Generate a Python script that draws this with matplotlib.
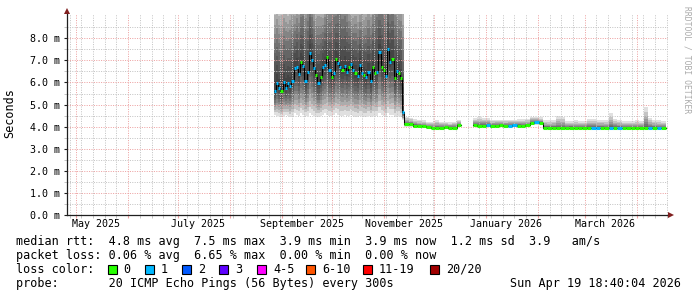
import numpy as np
import matplotlib
matplotlib.use('Agg')
import matplotlib.pyplot as plt
import matplotlib.dates as mdates
import matplotlib.transforms as mtrans
from matplotlib.patches import Rectangle
import datetime as dt

# ---------------- data ----------------
# segment 1 (late Aug - mid Nov 2025)
p1_start = '2025-08-27 05:00'
p1_step_days = 1.3
p1_median = [5.63, 5.96, 5.77, 5.62, 6.00, 5.77, 5.96, 5.84, 6.08, 6.64,
             6.72, 6.39, 6.94, 6.75, 6.07, 6.49, 7.32, 7.02, 6.64, 6.34,
             5.99, 6.26, 6.69, 6.79, 7.14, 6.57, 6.26, 6.45, 7.05, 6.90,
             6.69, 6.57, 6.75, 6.49, 6.69, 6.84, 6.57, 6.42, 6.30, 6.79,
             6.45, 6.34, 6.24, 6.49, 6.08, 6.69, 6.42, 6.49, 7.37, 6.69,
             6.57, 6.30, 7.50, 6.94, 7.05, 6.19, 6.52, 6.45, 6.19, 4.68]
p1_loss = [1, 1, 1, 0, 1, 1, 1, 1, 1, 1,
           1, 1, 0, 1, 1, 1, 1, 1, 1, 0,
           1, 0, 1, 1, 0, 1, 0, 1, 0, 1,
           1, 0, 1, 1, 0, 1, 1, 0, 1, 1,
           1, 0, 1, 1, 1, 0, 0, 1, 1, 0,
           0, 1, 1, 1, 0, 0, 1, 0, 0, 1]
p1_smoke_lo = [4.55, 4.50, 4.50, 4.45, 4.50, 4.55, 4.50, 4.45, 4.50, 4.60,
               4.55, 4.50, 4.60, 4.55, 4.50, 4.50, 4.60, 4.55, 4.50, 4.45,
               4.45, 4.50, 4.55, 4.60, 4.55, 4.50, 4.50, 4.55, 4.60, 4.55,
               4.50, 4.50, 4.55, 4.50, 4.50, 4.55, 4.50, 4.45, 4.45, 4.50,
               4.50, 4.45, 4.45, 4.50, 4.45, 4.50, 4.50, 4.50, 4.60, 4.55,
               4.50, 4.45, 4.60, 4.55, 4.55, 4.45, 4.50, 4.50, 4.45, 4.30]
p1_smoke_hi = [9.9, 10.1, 9.8, 9.9, 10.2, 10.0, 9.8, 10.1, 10.3, 10.0,
               10.4, 10.2, 11.0, 11.3, 10.8, 11.1, 11.4, 10.9, 10.2, 10.0,
               10.3, 10.1, 9.9, 10.4, 10.6, 10.8, 11.3, 11.5, 11.0, 11.4,
               11.6, 11.2, 11.3, 11.0, 10.2, 10.0, 9.9, 10.1, 9.8, 10.0,
               10.3, 9.9, 10.1, 10.4, 10.2, 10.6, 11.2, 11.4, 11.0, 11.5,
               11.3, 11.1, 11.6, 11.2, 11.4, 11.0, 10.6, 10.4, 10.5, 10.3]

# segment 2 (mid Nov - mid Dec 2025)
p2_start = '2025-11-13 05:00'
p2_step_days = 2.6
p2_median = [4.12, 4.12, 4.05, 4.03, 4.02, 3.97, 3.96, 3.96, 3.96, 3.97, 3.96, 3.96, 4.08]
p2_loss = [0, 0, 0, 0, 0, 0, 0, 0, 0, 0, 0, 0, 0]
p2_smoke_lo = [3.98, 3.98, 3.95, 3.94, 3.93, 3.91, 3.90, 3.90, 3.90, 3.91, 3.90, 3.90, 3.98]
p2_smoke_hi = [4.45, 4.40, 4.35, 4.30, 4.28, 4.22, 4.22, 4.30, 4.22, 4.22, 4.20, 4.22, 4.30]

# segment 3 (late Dec 2025 - Apr 2026)
p3_start = '2025-12-24 02:00'
p3_step_days = 2.62
p3_median = [4.06, 4.05, 4.05, 4.07, 4.04, 4.05, 4.06, 4.04, 4.05, 4.06,
             4.05, 4.04, 4.06, 4.17, 4.20, 4.18, 3.95, 3.96, 3.95, 3.94,
             3.95, 3.95, 3.96, 3.95, 3.95, 3.94, 3.95, 3.96, 3.95, 3.95,
             3.94, 3.95, 3.95, 3.96, 3.95, 3.95, 3.94, 3.95, 3.95, 3.96,
             3.95, 3.95, 3.94, 3.95]
p3_loss = [0, 0, 0, 1, 0, 0, 0, 0, 1, 1,
           0, 0, 0, 0, 1, 0, 0, 0, 0, 0,
           0, 0, 0, 0, 0, 0, 0, 1, 1, 0,
           0, 1, 0, 1, 0, 0, 0, 0, 0, 0,
           1, 0, 1, 0]
p3_smoke_lo = [3.98] * 13 + [4.08] * 3 + [3.90] * 28
p3_smoke_hi = [4.40, 4.42, 4.40, 4.38, 4.30, 4.30, 4.32, 4.30, 4.30, 4.32,
               4.35, 4.35, 4.35, 4.45, 4.45, 4.42, 4.30, 4.28, 4.30, 4.50,
               4.45, 4.25, 4.25, 4.28, 4.25, 4.25, 4.35, 4.35, 4.32, 4.30,
               4.30, 4.60, 4.35, 4.30, 4.25, 4.25, 4.25, 4.28, 4.25, 4.90,
               4.40, 4.30, 4.30, 4.25]

y_ticks = [0.0, 1.0, 2.0, 3.0, 4.0, 5.0, 6.0, 7.0, 8.0]
month_labels = ['May 2025', 'July 2025', 'September 2025', 'November 2025',
                'January 2026', 'March 2026']
month_label_dates = ['2025-05-13', '2025-07-13', '2025-09-13', '2025-11-13',
                     '2026-01-13', '2026-03-13']

loss_names = ['0', '1', '2', '3', '4-5', '6-10', '11-19', '20/20']
loss_colors = ['#26ff00', '#00b8ff', '#0059ff', '#5e00ff', '#ff00ff',
               '#ff5500', '#ff0000', '#a10000']
loss_ranges = [(0, 0), (1, 1), (2, 2), (3, 3), (4, 5), (6, 10), (11, 19), (20, 20)]

legend_rtt = 'median rtt:  4.8 ms avg  7.5 ms max  3.9 ms min  3.9 ms now  1.2 ms sd  3.9   am/s'
legend_loss = 'packet loss: 0.06 % avg  6.65 % max  0.00 % min  0.00 % now'
legend_probe = 'probe:       20 ICMP Echo Pings (56 Bytes) every 300s'
legend_stamp = 'Sun Apr 19 18:40:04 2026'

x_start = '2025-04-25 07:00'
x_end = '2026-04-19 18:40'
y_top = 9.1

# ---------------- drawing ----------------
W, H = 697, 297
MONO = 'DejaVu Sans Mono'
plt.rcParams['font.family'] = MONO

fig = plt.figure(figsize=(W / 100, H / 100), dpi=100, facecolor='white')
L, R, B, T = 66.7, 668.0, 215.0, 14.0
ax = fig.add_axes([L / W, 1 - B / H, (R - L) / W, (B - T) / H])
ax.set_facecolor('white')


def tparse(s):
    fmt = '%Y-%m-%d %H:%M' if ':' in s else '%Y-%m-%d'
    return dt.datetime.strptime(s, fmt)


def edges(start, step, n):
    t0 = tparse(start)
    return np.array([mdates.date2num(t0 + dt.timedelta(days=step * i)) for i in range(n + 1)])


segs = [
    (p1_start, p1_step_days, p1_median, p1_loss, p1_smoke_lo, p1_smoke_hi),
    (p2_start, p2_step_days, p2_median, p2_loss, p2_smoke_lo, p2_smoke_hi),
    (p3_start, p3_step_days, p3_median, p3_loss, p3_smoke_lo, p3_smoke_hi),
]
# how concentrated the smoke is around the median (rendering parameter)
smoke_conc = [1.0, 2.6, 2.6]

# smoke
NL = 10
for (start, step, med, loss, lo, hi), pw in zip(segs, smoke_conc):
    x = edges(start, step, len(med))
    med = np.array(med); lo = np.array(lo); hi = np.array(hi)
    for k in range(NL):
        f = 1 - (1 - k / NL) ** pw
        l = lo + (med - lo) * f
        h = hi - (hi - med) * f
        ax.fill_between(x, np.append(l, l[-1]), np.append(h, h[-1]), step='post',
                        color='black', alpha=0.12, lw=0, zorder=1)

# median lines (segments 1+2 are contiguous)
groups = [[segs[0], segs[1]], [segs[2]]]
for g in groups:
    xs, ys, ls = [], [], []
    for start, step, med, loss, lo, hi in g:
        x = edges(start, step, len(med))
        xs.extend(x[:-1]); ys.extend(med); ls.extend(loss)
    xs.append(x[-1])
    xs = np.array(xs); ys = np.array(ys, float); ls = np.array(ls)
    ax.plot(xs, np.append(ys, ys[-1]), drawstyle='steps-post', color='black',
            lw=0.75, zorder=3)
    for (a, b), c in zip(loss_ranges, loss_colors):
        m = (ls >= a) & (ls <= b)
        if not m.any():
            continue
        ax.hlines(ys[m], xs[:-1][m], xs[1:][m], colors=c, lw=2.2,
                  capstyle='butt', zorder=4)

# axes limits
ax.set_xlim(mdates.date2num(tparse(x_start)), mdates.date2num(tparse(x_end)))
ax.set_ylim(0, y_top)

# grid
ax.xaxis.set_major_locator(mdates.MonthLocator())
ax.xaxis.set_minor_locator(mdates.WeekdayLocator(byweekday=mdates.SU))
ax.xaxis.set_major_formatter(plt.NullFormatter())
ax.set_yticks(y_ticks)
ax.set_yticks(np.arange(0.5, y_top, 1.0), minor=True)
ax.set_yticklabels(['%.1f m' % v for v in y_ticks])
ax.set_axisbelow(False)
gkw = dict(linestyle=(0, (1, 1.4)), linewidth=0.72)
ax.grid(which='minor', color='#c4c4c4', **gkw)
ax.grid(which='major', color='#eda2a2', **gkw)
for gl in ax.get_xgridlines() + ax.get_ygridlines():
    gl.set_zorder(2.5)

ax.tick_params(axis='y', which='major', length=2.5, width=0.8, pad=2.3,
               labelsize=7.2, color='#202020', direction='out')
ax.tick_params(axis='y', which='minor', length=2, width=0.7, color='#c4c4c4')
ax.tick_params(axis='x', which='major', length=2.5, width=0.8, color='#eda2a2',
               labelbottom=False)
ax.tick_params(axis='x', which='minor', length=2, width=0.7, color='#c4c4c4')

for s in ['top', 'right']:
    ax.spines[s].set_visible(False)
for s in ['left', 'bottom']:
    ax.spines[s].set_color('#1f1f1f')
    ax.spines[s].set_linewidth(0.9)
    ax.spines[s].set_zorder(5)

# month labels
for lab, d in zip(month_labels, month_label_dates):
    ax.annotate(lab, xy=(mdates.date2num(tparse(d)), 0), xycoords=('data', 'axes fraction'),
                xytext=(0, -6.6), textcoords='offset points', ha='center', va='center',
                fontsize=7.2, family=MONO)

# arrows
arrow_c = (0.5, 0.12, 0.12)
tr_up = mtrans.offset_copy(ax.transAxes, fig=fig, x=0, y=3, units='dots')
ax.plot([0], [1], marker='^', ms=4.2, color=arrow_c, mew=0, transform=tr_up, clip_on=False, zorder=6)
tr_rt = mtrans.offset_copy(ax.transAxes, fig=fig, x=3, y=0, units='dots')
ax.plot([1], [0], marker='>', ms=4.2, color=arrow_c, mew=0, transform=tr_rt, clip_on=False, zorder=6)

# y label and watermark
fig.text(10 / W, 1 - 113 / H, 'Seconds', rotation=90, ha='center', va='center',
         fontsize=8.5, family=MONO)
fig.text(687 / W, 1 - 60 / H, 'RRDTOOL / TOBI OETIKER', rotation=270, ha='center',
         va='center', fontsize=5.8, family=MONO, color='#aaaaaa')

# legend text
FS = 8.5
fig.text(16 / W, 1 - 241 / H, legend_rtt, ha='left', va='center', fontsize=FS, family=MONO)
fig.text(16 / W, 1 - 255.5 / H, legend_loss, ha='left', va='center', fontsize=FS, family=MONO)
fig.text(16 / W, 1 - 269.5 / H, 'loss color:', ha='left', va='center', fontsize=FS, family=MONO)
fig.text(16 / W, 1 - 284 / H, legend_probe, ha='left', va='center', fontsize=FS, family=MONO)
fig.text(681 / W, 1 - 284 / H, legend_stamp, ha='right', va='center', fontsize=FS, family=MONO)

sw_x = [107.5, 145, 182, 219, 257, 306, 363, 430]
for sx, name, c in zip(sw_x, loss_names, loss_colors):
    fig.patches.append(Rectangle((sx / W, 1 - 274 / H), 9 / W, 9 / H, transform=fig.transFigure,
                                 facecolor=c, edgecolor='black', lw=0.8, figure=fig))
    fig.text((sx + 16) / W, 1 - 269.5 / H, name, ha='left', va='center', fontsize=FS, family=MONO)

fig.savefig('out.png', dpi=100, facecolor='white')
